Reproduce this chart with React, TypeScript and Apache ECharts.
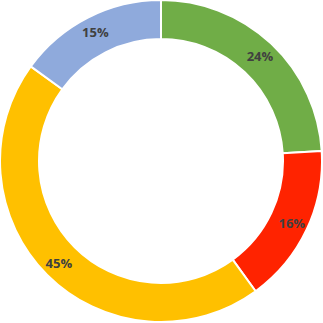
import React, { useEffect, useRef } from "react";
import * as echarts from "echarts";

const categories = ["A", "B", "C", "D"];
const values = [24, 16, 45, 15];
const colors = ["#70AD47", "#FF2300", "#FFC000", "#8FAADC"];

export default function App() {
  const ref = useRef<HTMLDivElement>(null);
  useEffect(() => {
    document.body.style.margin = "0";
    const chart = echarts.init(ref.current!, null, { renderer: "svg" });
    chart.setOption({
      animation: false,
      series: [
        {
          type: "pie",
          center: [161, 161],
          radius: [122, 161],
          startAngle: 90,
          clockwise: true,
          avoidLabelOverlap: false,
          data: categories.map((c, i) => ({
            name: c,
            value: values[i],
            itemStyle: { color: colors[i] },
          })),
          itemStyle: { borderColor: "#ffffff", borderWidth: 2 },
          label: {
            position: "inside",
            formatter: (p: any) => `${p.value}%`,
            color: "#404040",
            fontWeight: "bold",
            fontSize: 13,
            fontFamily: "Open Sans",
          },
          labelLine: { show: false },
          emphasis: { disabled: true },
        },
      ],
    });
    return () => chart.dispose();
  }, []);
  return <div ref={ref} style={{ position: "absolute", left: 0, top: 0, width: 323, height: 323 }} />;
}
